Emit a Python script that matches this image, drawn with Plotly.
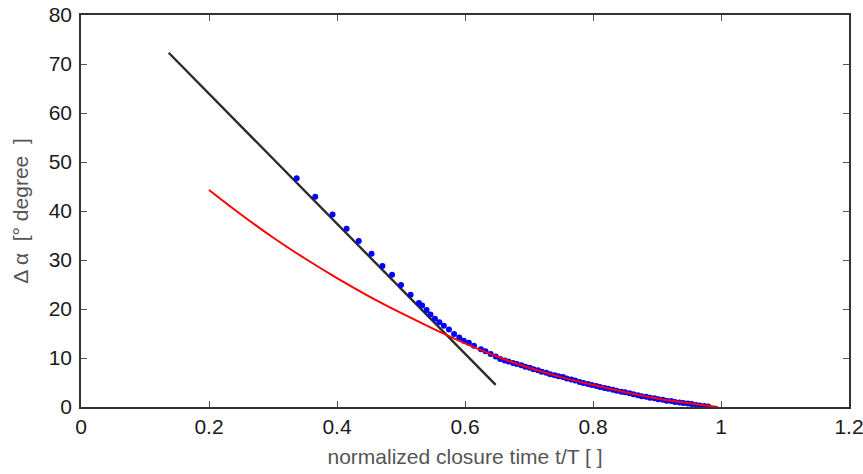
import plotly.graph_objects as go

# Black fitted straight line (endpoints)
line_x = [0.137, 0.648]
line_y = [72.3, 4.5]

# Red fitted curve
red_x = [0.2, 0.25, 0.3, 0.35, 0.4, 0.45, 0.5, 0.55, 0.6, 0.65, 0.7, 0.75,
         0.8, 0.85, 0.9, 0.95, 0.98, 0.995]
red_y = [44.3, 39.3, 34.6, 30.3, 26.3, 22.6, 19.2, 16.0, 13.0, 10.3, 8.0, 6.1,
         4.5, 3.0, 1.75, 0.75, 0.25, 0.0]

# Blue measured points
blue_x = [0.337, 0.366, 0.393, 0.415, 0.434, 0.454, 0.471, 0.486, 0.500, 0.515,
          0.528, 0.533, 0.540, 0.546, 0.553, 0.560, 0.567, 0.575, 0.583, 0.591,
          0.598, 0.606, 0.614, 0.625, 0.632, 0.640, 0.648,
          0.655, 0.662, 0.668, 0.675, 0.681, 0.688, 0.694, 0.701, 0.707, 0.714,
          0.720, 0.727, 0.733, 0.740, 0.746, 0.753, 0.759, 0.766, 0.772, 0.779,
          0.785, 0.792, 0.798, 0.805, 0.811, 0.818, 0.824, 0.831, 0.837, 0.844,
          0.850, 0.857, 0.863, 0.870, 0.876, 0.883, 0.889, 0.896, 0.902, 0.909,
          0.915, 0.922, 0.928, 0.935, 0.941, 0.948, 0.954, 0.961, 0.967, 0.974,
          0.980]
blue_y = [46.7, 42.9, 39.3, 36.4, 33.9, 31.3, 28.8, 27.0, 24.9, 22.9,
          21.2, 20.7, 19.8, 18.9, 18.0, 17.3, 16.6, 15.8, 14.9, 14.2,
          13.5, 13.1, 12.5, 11.8, 11.4, 10.8, 10.3,
          9.8, 9.5, 9.3, 9.0, 8.8, 8.5, 8.2, 8.0, 7.7, 7.5,
          7.2, 7.0, 6.7, 6.5, 6.3, 6.1, 5.8, 5.6, 5.4, 5.1,
          4.9, 4.7, 4.5, 4.3, 4.1, 3.9, 3.7, 3.5, 3.3, 3.1,
          3.0, 2.8, 2.6, 2.4, 2.2, 2.1, 1.9, 1.8, 1.6, 1.5,
          1.3, 1.2, 1.0, 0.9, 0.8, 0.7, 0.6, 0.4, 0.3, 0.2,
          0.1]

x_ticks = [0, 0.2, 0.4, 0.6, 0.8, 1, 1.2]
x_labels = ["0", "0.2", "0.4", "0.6", "0.8", "1", "1.2"]
y_ticks = [0, 10, 20, 30, 40, 50, 60, 70, 80]

fig = go.Figure()
fig.add_trace(go.Scatter(x=line_x, y=line_y, mode="lines",
                         line=dict(color="#2b2b2b", width=2.4), showlegend=False))
fig.add_trace(go.Scatter(x=blue_x, y=blue_y, mode="markers",
                         marker=dict(color="#0000ff", size=6), showlegend=False))
fig.add_trace(go.Scatter(x=red_x, y=red_y, mode="lines",
                         line=dict(color="#ff0000", width=2, shape="spline", smoothing=1),
                         showlegend=False))

font_family = "Liberation Sans, Arial"
axis_common = dict(showgrid=False, zeroline=False, showline=True, linecolor="#333333",
                   linewidth=1.5, mirror="allticks", ticks="inside", ticklen=6,
                   tickcolor="#555555", tickwidth=1.2, automargin=False,
                   ticklabeloverflow="allow",
                   tickfont=dict(family=font_family, size=21, color="#1a1a1a"))

fig.update_layout(
    width=863, height=474,
    margin=dict(l=81, r=14, t=15, b=67),
    plot_bgcolor="white", paper_bgcolor="white",
    xaxis=dict(range=[0, 1.2], tickvals=x_ticks, ticktext=x_labels,
               title=dict(text="normalized closure time t/T [ ]",
                          font=dict(family=font_family, size=21, color="#555555"),
                          standoff=12),
               **axis_common),
    yaxis=dict(range=[0, 80], tickvals=y_ticks, ticklabelstandoff=3,
               title=dict(text="Δ α  [° degree  ]",
                          font=dict(family=font_family, size=21, color="#555555"),
                          standoff=14),
               **axis_common),
)

fig.write_html("out.html", config={"displayModeBar": False},
               post_script="document.body.style.margin='0px';")
